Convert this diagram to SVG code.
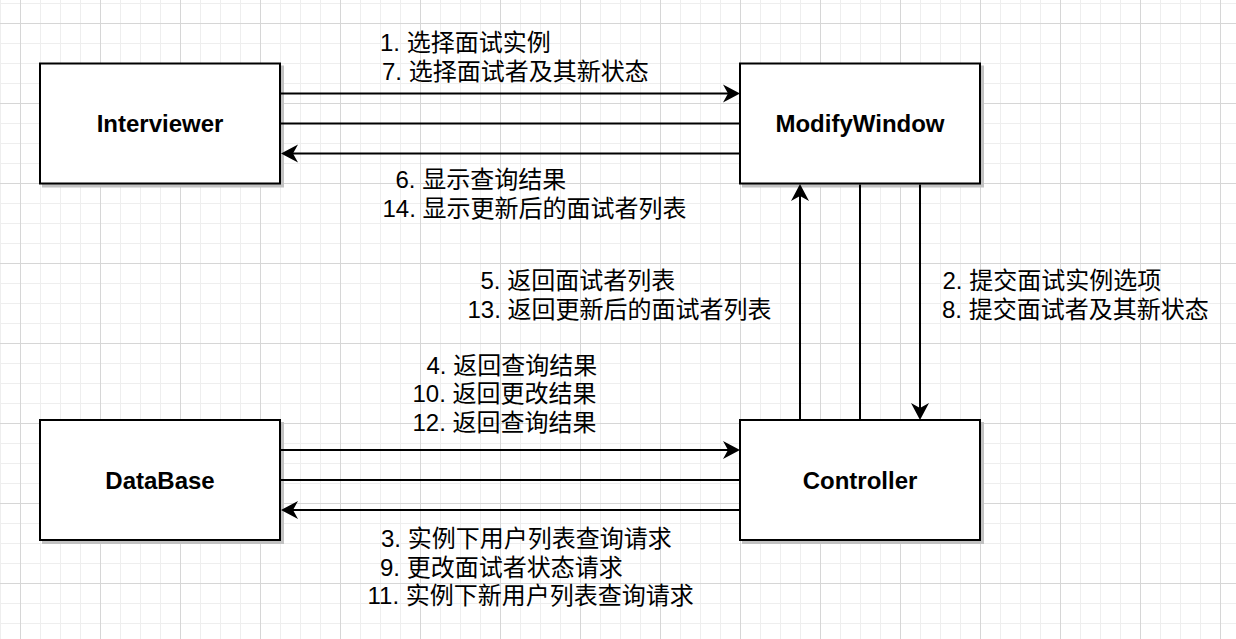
<svg xmlns="http://www.w3.org/2000/svg" width="1236" height="639" viewBox="0 0 1236 639">
<style>
.box{fill:#ffffff;stroke:#000000;stroke-width:2}
.shadow{fill:#c2c2c2;stroke:#c2c2c2;stroke-width:2}
.name{font-family:"Liberation Sans",Arial,sans-serif;font-weight:bold;font-size:24px;fill:#000;text-anchor:middle;dominant-baseline:central}
.lbl{font-family:"Liberation Sans","Noto Sans CJK SC",sans-serif;font-size:24px;fill:#000}
.edge{fill:none;stroke:#000;stroke-width:2}
</style>
<defs>
<pattern id="minor" patternUnits="userSpaceOnUse" x="0" y="3" width="20" height="20">
<path d="M0.5 0 V20 M0 0.5 H20" stroke="#eeeeee" stroke-width="1" fill="none"/>
</pattern>
<pattern id="major" patternUnits="userSpaceOnUse" x="20" y="23" width="80" height="80">
<path d="M0.5 0 V80 M0 0.5 H80" stroke="#d6d6d6" stroke-width="1" fill="none"/>
</pattern>
<marker id="arr" markerUnits="userSpaceOnUse" markerWidth="18" markerHeight="18" viewBox="0 0 18 18" refX="5" refY="9" orient="auto" overflow="visible">
<path d="M0,0 L17,9 L0,18 L5,9 Z" fill="#000"/>
</marker>
</defs>
<rect width="1236" height="639" fill="#ffffff"/>
<rect width="1236" height="639" fill="url(#minor)"/>
<rect width="1236" height="639" fill="url(#major)"/>

<g id="interviewer">
<rect class="shadow" x="43" y="66.5" width="240" height="120"/>
<rect class="box" x="40" y="63.5" width="240" height="120"/>
<text class="name" x="160" y="123.5">Interviewer</text>
</g>
<g id="modifywindow">
<rect class="shadow" x="743" y="66.5" width="240" height="120"/>
<rect class="box" x="740" y="63.5" width="240" height="120"/>
<text class="name" x="860" y="123.5">ModifyWindow</text>
</g>
<g id="database">
<rect class="shadow" x="43" y="423" width="240" height="120"/>
<rect class="box" x="40" y="420" width="240" height="120"/>
<text class="name" x="160" y="480">DataBase</text>
</g>
<g id="controller">
<rect class="shadow" x="743" y="423" width="240" height="120"/>
<rect class="box" x="740" y="420" width="240" height="120"/>
<text class="name" x="860" y="480">Controller</text>
</g>

<g id="connectors">
<line class="edge" x1="281" y1="93.5" x2="728" y2="93.5" marker-end="url(#arr)"/>
<line class="edge" x1="281" y1="123.5" x2="739" y2="123.5"/>
<line class="edge" x1="739" y1="153.5" x2="293" y2="153.5" marker-end="url(#arr)"/>
<line class="edge" x1="281" y1="450" x2="728" y2="450" marker-end="url(#arr)"/>
<line class="edge" x1="281" y1="480" x2="739" y2="480"/>
<line class="edge" x1="739" y1="510" x2="293" y2="510" marker-end="url(#arr)"/>
<line class="edge" x1="800" y1="419" x2="800" y2="196" marker-end="url(#arr)"/>
<line class="edge" x1="860" y1="419" x2="860" y2="184.5"/>
<line class="edge" x1="920" y1="184.5" x2="920" y2="408" marker-end="url(#arr)"/>
</g>

<g id="labels">
<text class="lbl" x="380" y="50.5">1. 选择面试实例</text>
<text class="lbl" x="382" y="79.5">7. 选择面试者及其新状态</text>
<text class="lbl" x="395.5" y="188">6. 显示查询结果</text>
<text class="lbl" x="382.5" y="217">14. 显示更新后的面试者列表</text>
<text class="lbl" x="480.5" y="288.5">5. 返回面试者列表</text>
<text class="lbl" x="467.5" y="317.5">13. 返回更新后的面试者列表</text>
<text class="lbl" x="942.5" y="288.5">2. 提交面试实例选项</text>
<text class="lbl" x="942" y="317.5">8. 提交面试者及其新状态</text>
<text class="lbl" x="426.5" y="373.5">4. 返回查询结果</text>
<text class="lbl" x="412.5" y="402">10. 返回更改结果</text>
<text class="lbl" x="412.5" y="430.5">12. 返回查询结果</text>
<text class="lbl" x="381" y="547">3. 实例下用户列表查询请求</text>
<text class="lbl" x="380" y="575.5">9. 更改面试者状态请求</text>
<text class="lbl" x="367.5" y="603.5">11. 实例下新用户列表查询请求</text>
</g>
</svg>
